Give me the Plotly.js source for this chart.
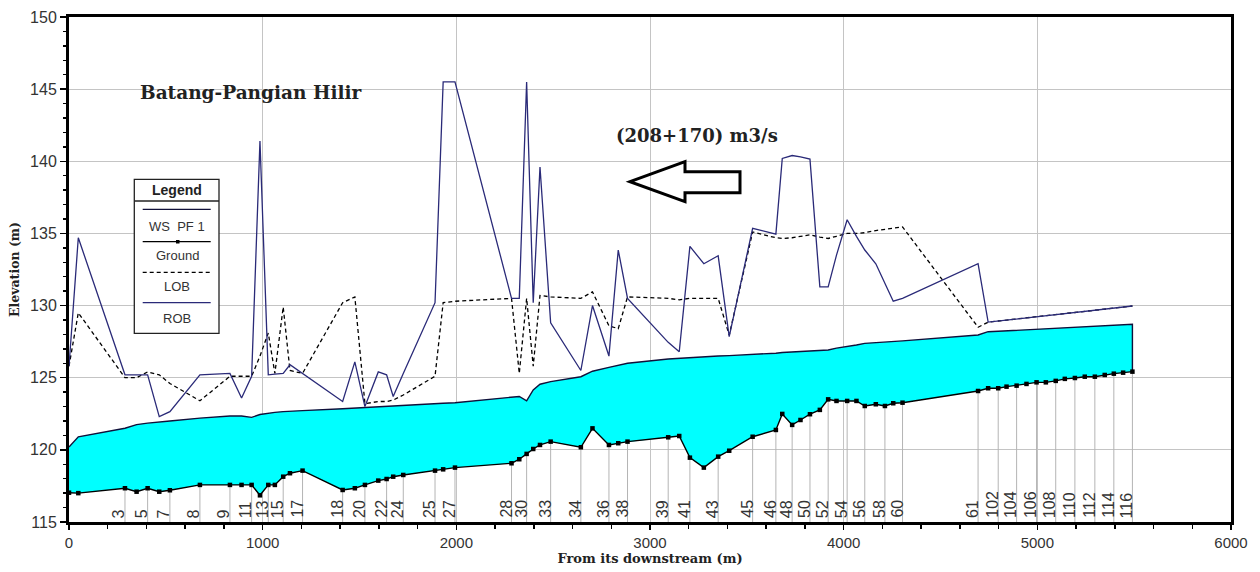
<!DOCTYPE html>
<html><head><meta charset="utf-8">
<script src="https://cdn.plot.ly/plotly-3.0.1.min.js"></script>
<style>html,body{margin:0;padding:0;background:#fff;}#chart{width:1260px;height:572px;}</style>
</head><body><div id="chart"></div>
<script>
// River stations (names), distance from downstream (m)
const stationNames = ["1","2","3","4","5","6","7","8","9","10","11","12","13","14","15","16","17","18","19","20","21","22","23","24","25","26","27","28","29","30","31","32","33","34","35","36","37","38","39","40","41","42","43","44","45","46","47","48","49","50","51","52","53","54","55","56","57","58","59","60","61","101","102","103","104","105","106","107","108","109","110","111","112","113","114","115","116"];
const stationLabels = ["","","3","","5","","7","8","9","","11","","13","","15","","17","18","","20","","22","","24","25","","27","28","","30","","","33","34","","36","","38","39","","41","","43","","45","46","","48","","50","","52","","54","","56","","58","","60","61","","102","","104","","106","","108","","110","","112","","114","","116"];
const distance = [0,48,289,349,406,466,521,676,831,891,943,986,1029,1063,1106,1141,1206,1413,1476,1528,1597,1640,1674,1726,1890,1932,1993,2285,2325,2363,2397,2432,2487,2643,2703,2788,2836,2884,3094,3151,3206,3278,3352,3409,3530,3650,3683,3734,3777,3826,3877,3920,3963,4018,4066,4109,4166,4213,4256,4304,4694,4746,4798,4841,4893,4944,4996,5044,5095,5142,5194,5245,5297,5348,5395,5443,5491];
const ground = [117.03,117.0,117.34,117.1,117.34,117.1,117.2,117.57,117.57,117.57,117.57,116.85,117.57,117.57,118.14,118.38,118.56,117.22,117.34,117.57,117.87,117.98,118.14,118.26,118.56,118.65,118.77,119.07,119.35,119.72,120.06,120.34,120.57,120.18,121.49,120.34,120.46,120.57,120.87,120.96,119.46,118.77,119.53,119.94,120.91,121.38,122.49,121.73,122.07,122.47,122.77,123.5,123.39,123.39,123.39,123.04,123.16,123.04,123.23,123.27,124.08,124.27,124.27,124.38,124.45,124.57,124.68,124.68,124.78,124.92,124.98,125.07,125.07,125.19,125.28,125.35,125.42];
const wsPF1 = [120.2,120.9,121.5,121.75,121.85,121.95,122.0,122.2,122.35,122.35,122.25,122.45,122.55,122.6,122.65,122.68,122.72,122.85,122.9,122.95,123.0,123.02,123.04,123.08,123.2,123.23,123.27,123.65,123.7,123.4,124.15,124.55,124.73,125.07,125.45,125.72,125.85,126.0,126.3,126.35,126.42,126.47,126.5,126.53,126.6,126.7,126.75,126.78,126.8,126.83,126.87,126.92,127.05,127.15,127.27,127.38,127.42,127.45,127.5,127.55,127.96,128.19,128.22,128.25,128.29,128.33,128.36,128.4,128.43,128.46,128.5,128.53,128.57,128.6,128.63,128.67,128.7];
const lob = [125.8,129.5,125.0,125.0,125.4,125.2,124.6,123.4,125.1,125.1,125.1,126.5,128.1,125.3,129.9,125.5,125.3,130.2,130.6,123.2,123.35,123.35,123.45,123.8,125.1,130.2,130.3,130.5,125.3,130.5,125.8,130.7,130.6,130.5,130.95,128.6,128.4,130.6,130.5,130.4,130.5,130.5,130.5,127.95,135.1,134.7,134.65,134.7,134.8,134.9,134.75,134.65,134.8,135.0,135.0,135.05,135.2,135.3,135.4,135.45,128.5,128.85,128.93,129.0,129.08,129.15,129.23,129.3,129.38,129.45,129.52,129.6,129.67,129.75,129.82,129.9,129.97];
const rob = [125.8,134.7,125.2,125.2,125.2,122.3,122.65,125.2,125.3,123.6,125.1,141.4,125.2,125.25,125.3,125.9,125.3,123.35,126.1,123.0,125.4,125.2,123.7,125.3,130.2,145.5,145.5,130.5,130.5,145.5,130.2,139.6,128.8,125.5,130.0,126.5,133.85,130.5,127.45,126.8,134.1,132.9,133.45,127.85,135.35,134.95,140.2,140.4,140.3,140.15,131.3,131.3,133.5,135.95,134.8,133.85,132.9,131.6,130.3,130.5,132.9,128.85,128.93,129.0,129.08,129.15,129.23,129.3,129.38,129.45,129.52,129.6,129.67,129.75,129.82,129.9,129.97];

const xTickVals = [0,1000,2000,3000,4000,5000,6000];
const yTickVals = [115,120,125,130,135,140,145,150];
const legendNames = ["WS  PF 1","Ground","LOB","ROB"];
const chartTitle = "Batang-Pangian Hilir";
const flowNote = "(208+170) m3/s";

// pixel -> paper helpers for decorations
const PL=69, PR=1231, PT=17, PB=522;
const px = v => (v-PL)/(PR-PL);
const py = v => (PB-v)/(PB-PT);

const n = distance.length;
// water fill polygon between WS and ground
const fillX = distance.concat(distance.slice().reverse());
const fillY = wsPF1.concat(ground.slice().reverse());
// station drop lines (labelled stations)
const dropX = [], dropY = [];
stationLabels.forEach((lb,i)=>{ if(lb){ dropX.push(distance[i],distance[i],null); dropY.push(115,ground[i],null);} });

const traces = [
  {x: fillX, y: fillY, type:'scatter', mode:'lines', fill:'toself', fillcolor:'#00ffff', line:{width:0}, hoverinfo:'skip', showlegend:false},
  {x: dropX, y: dropY, type:'scatter', mode:'lines', line:{color:'#b4b4b4', width:1}, hoverinfo:'skip', showlegend:false},
  {x: distance.concat([distance[n-1]]), y: wsPF1.concat([ground[n-1]]), type:'scatter', mode:'lines', name:legendNames[0], line:{color:'#10103a', width:1.4}, showlegend:false},
  {x: distance, y: ground, type:'scatter', mode:'lines+markers', name:legendNames[1], line:{color:'#000', width:1.4}, marker:{symbol:'square', size:4.5, color:'#000'}, showlegend:false},
  {x: distance, y: lob, type:'scatter', mode:'lines', name:legendNames[2], line:{color:'#000', width:1.3, dash:'4px,3px'}, showlegend:false},
  {x: distance, y: rob, type:'scatter', mode:'lines', name:legendNames[3], line:{color:'#2a2a78', width:1.3}, showlegend:false}
];

const annotations = [];
stationLabels.forEach((lb,i)=>{
  if(!lb) return;
  annotations.push({x: distance[i], y: 115, xref:'x', yref:'y', text: lb, showarrow:false, textangle:-90,
    xanchor:'center', yanchor:'bottom', xshift:-6, yshift:2, font:{family:'Liberation Sans, Arial', size:16, color:'#333'}});
});
annotations.push({x: px(250.5), y: py(92.7), xref:'paper', yref:'paper', text:'<b>'+chartTitle+'</b>', showarrow:false,
  xanchor:'center', yanchor:'middle', font:{family:'DejaVu Serif', size:18.5, color:'#222'}});
annotations.push({x: px(697), y: py(135), xref:'paper', yref:'paper', text:'<b>'+flowNote+'</b>', showarrow:false,
  xanchor:'center', yanchor:'middle', font:{family:'DejaVu Serif', size:18, color:'#222'}});
// legend texts
annotations.push({x: px(177), y: py(190), xref:'paper', yref:'paper', text:'<b>Legend</b>', showarrow:false, xanchor:'center', yanchor:'middle', font:{family:'Liberation Sans, Arial', size:14, color:'#222'}});
const legTextY = [226, 255.7, 286.7, 318.3];
legendNames.forEach((t,i)=>annotations.push({x: px(177), y: py(legTextY[i]), xref:'paper', yref:'paper', text:t, showarrow:false, xanchor:'center', yanchor:'middle', font:{family:'Liberation Sans, Arial', size:13, color:'#333'}}));

const shapes = [
  {type:'rect', xref:'paper', yref:'paper', x0:px(134.3), x1:px(219), y0:py(333.3), y1:py(179.3), line:{color:'#222', width:1.3}, fillcolor:'#fff', layer:'above'},
  {type:'line', xref:'paper', yref:'paper', x0:px(134.3), x1:px(219), y0:py(201), y1:py(201), line:{color:'#222', width:1.3}, layer:'above'},
  {type:'line', xref:'paper', yref:'paper', x0:px(142.7), x1:px(210.7), y0:py(209.3), y1:py(209.3), line:{color:'#10103a', width:1.3}, layer:'above'},
  {type:'line', xref:'paper', yref:'paper', x0:px(142.7), x1:px(210.7), y0:py(241.7), y1:py(241.7), line:{color:'#000', width:1.3}, layer:'above'},
  {type:'rect', xref:'paper', yref:'paper', x0:px(176), x1:px(179.5), y0:py(243.5), y1:py(240), line:{color:'#000', width:0}, fillcolor:'#000', layer:'above'},
  {type:'line', xref:'paper', yref:'paper', x0:px(142.7), x1:px(210.7), y0:py(272.3), y1:py(272.3), line:{color:'#000', width:1.2, dash:'4px,3px'}, layer:'above'},
  {type:'line', xref:'paper', yref:'paper', x0:px(142.7), x1:px(210.7), y0:py(302.7), y1:py(302.7), line:{color:'#2a2a78', width:1.3}, layer:'above'},
  // hollow flow arrow
  {type:'path', xref:'paper', yref:'paper', layer:'above', fillcolor:'rgba(0,0,0,0)', line:{color:'#000', width:3},
   path:'M '+px(630)+','+py(181.7)+' L '+px(685)+','+py(161.7)+' L '+px(685)+','+py(171.7)+' L '+px(740)+','+py(171.7)+' L '+px(740)+','+py(192.7)+' L '+px(685)+','+py(192.7)+' L '+px(685)+','+py(201.7)+' Z'}
];

const layout = {
  width:1260, height:572,
  margin:{l:PL, r:1260-PR, t:PT, b:572-PB},
  paper_bgcolor:'#fff', plot_bgcolor:'#fff',
  showlegend:false,
  xaxis:{range:[0,6000], tickvals:xTickVals, ticktext:xTickVals.map(String), ticks:'outside', ticklen:5, tickwidth:1.5, tickcolor:'#000',
    minor:{dtick:200, ticks:'outside', ticklen:4, tickcolor:'#000', showgrid:false},
    showgrid:true, gridcolor:'#c4c4c4', gridwidth:1, zeroline:false,
    showline:true, linecolor:'#000', linewidth:3, mirror:true,
    tickfont:{family:'Liberation Sans, Arial', size:15, color:'#333'},
    title:{text:'<b>From its downstream (m)</b>', standoff:4, font:{family:'DejaVu Serif', size:13, color:'#222'}}},
  yaxis:{range:[115,150], tickvals:yTickVals, ticktext:yTickVals.map(String), ticks:'outside', ticklen:6, tickwidth:1.5, tickcolor:'#000',
    minor:{dtick:1, ticks:'outside', ticklen:3, tickcolor:'#000', showgrid:false},
    showgrid:true, gridcolor:'#c4c4c4', gridwidth:1, zeroline:false,
    showline:true, linecolor:'#000', linewidth:3, mirror:true,
    tickfont:{family:'Liberation Sans, Arial', size:16, color:'#333'},
    title:{text:'<b>Elevation (m)</b>', standoff:8, font:{family:'DejaVu Serif', size:12.5, color:'#222'}}},
  annotations: annotations,
  shapes: shapes
};
Plotly.newPlot('chart', traces, layout, {displayModeBar:false, staticPlot:true});
</script>
</body></html>
